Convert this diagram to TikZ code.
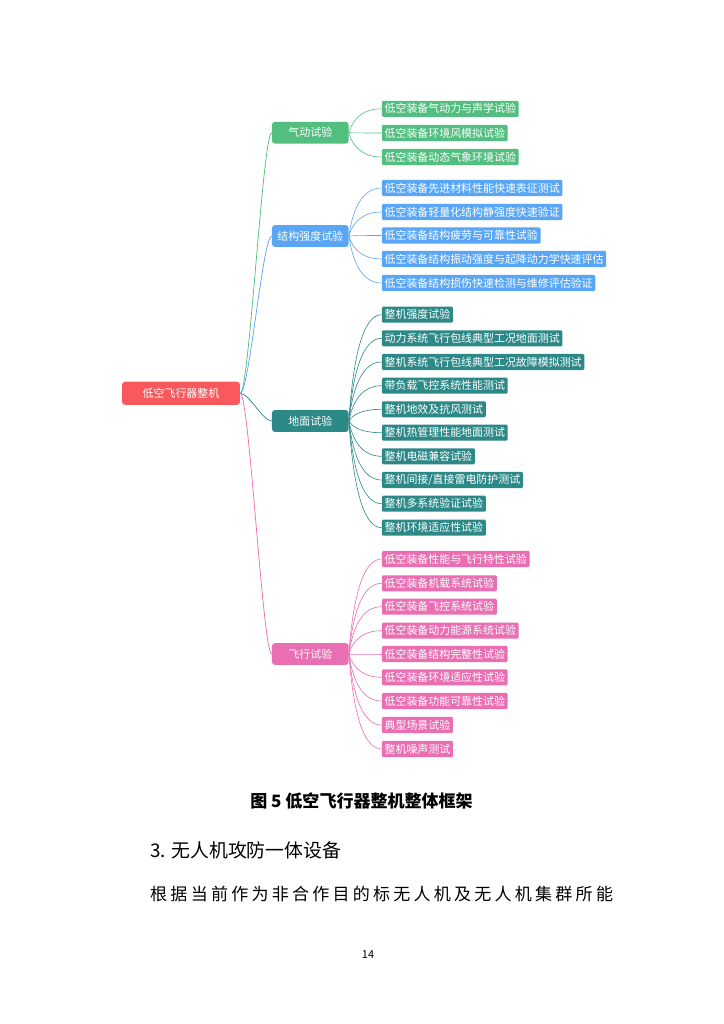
\documentclass[tikz,border=0pt]{standalone}
\usepackage{fontspec}
\usepackage{xcolor}
\usepackage{tikz}
\usetikzlibrary{
  calc
}
\newfontfamily\cjkfont{Noto Sans CJK SC}
\newfontfamily\cjkbody[LetterSpace=19]{Noto Sans CJK SC}

\definecolor{rootred}{RGB}{249,88,93}
\definecolor{aerogreen}{RGB}{82,190,128}
\definecolor{strublue}{RGB}{88,166,245}
\definecolor{gndteal}{RGB}{44,137,135}
\definecolor{flypink}{RGB}{234,110,178}

\begin{document}
\begin{tikzpicture}[x=0.8222pt, y=-0.8222pt,
  box/.style={text=white, font=\cjkfont\fontsize{9}{11}\selectfont, inner sep=0pt},
  rootbox/.style={box, fill=rootred, rounded corners=2.5pt, minimum width=97pt, minimum height=19pt},
  catbox/.style={box, rounded corners=2.5pt, minimum width=63pt, minimum height=18pt},
  leafbox/.style={box, anchor=west, rounded corners=1pt, inner xsep=2.2pt, minimum height=13.2pt},
  trunk/.style={line width=0.6pt},
  twig/.style={line width=0.5pt, to path={let \p1=(\tikztostart), \p2=(\tikztotarget) in
      .. controls ({\x1+3.9pt},{\y1+0.667*(\y2-\y1)}) and ({\x2+0.667*(\x1+5.8pt-\x2)},\y2) .. (\tikztotarget)}}
]

\useasboundingbox (0,0) rectangle (724,1024);

% Root node
\node[rootbox] (whole) at (181,393.3) {低空飞行器整机};

% Categories
\node[catbox, fill=aerogreen] (aero) at (310.3,132.7) {气动试验};
\node[catbox, fill=strublue] (stru) at (310.3,236) {结构强度试验};
\node[catbox, fill=gndteal] (gnd) at (310.3,421) {地面试验};
\node[catbox, fill=flypink] (fly) at (310.3,654) {飞行试验};

% Leaves - aero
\node[leafbox, fill=aerogreen] (aero1) at (381.7,108.8) {低空装备气动力与声学试验};
\node[leafbox, fill=aerogreen] (aero2) at (381.7,133) {低空装备环境风模拟试验};
\node[leafbox, fill=aerogreen] (aero3) at (381.7,157) {低空装备动态气象环境试验};

% Leaves - structure
\node[leafbox, fill=strublue] (stru1) at (381.7,188) {低空装备先进材料性能快速表征测试};
\node[leafbox, fill=strublue] (stru2) at (381.7,212) {低空装备轻量化结构静强度快速验证};
\node[leafbox, fill=strublue] (stru3) at (381.7,235.5) {低空装备结构疲劳与可靠性试验};
\node[leafbox, fill=strublue] (stru4) at (381.7,259) {低空装备结构振动强度与起降动力学快速评估};
\node[leafbox, fill=strublue] (stru5) at (381.7,283) {低空装备结构损伤快速检测与维修评估验证};

% Leaves - ground
\node[leafbox, fill=gndteal] (gnd1) at (381.7,314.7) {整机强度试验};
\node[leafbox, fill=gndteal] (gnd2) at (381.7,338.3) {动力系统飞行包线典型工况地面测试};
\node[leafbox, fill=gndteal] (gnd3) at (381.7,362) {整机系统飞行包线典型工况故障模拟测试};
\node[leafbox, fill=gndteal] (gnd4) at (381.7,385.7) {带负载飞控系统性能测试};
\node[leafbox, fill=gndteal] (gnd5) at (381.7,409.3) {整机地效及抗风测试};
\node[leafbox, fill=gndteal] (gnd6) at (381.7,432.7) {整机热管理性能地面测试};
\node[leafbox, fill=gndteal] (gnd7) at (381.7,456.3) {整机电磁兼容试验};
\node[leafbox, fill=gndteal] (gnd8) at (381.7,480) {整机间接/直接雷电防护测试};
\node[leafbox, fill=gndteal] (gnd9) at (381.7,503.7) {整机多系统验证试验};
\node[leafbox, fill=gndteal] (gnd10) at (381.7,527.7) {整机环境适应性试验};

% Leaves - flight
\node[leafbox, fill=flypink] (fly1) at (381.7,559) {低空装备性能与飞行特性试验};
\node[leafbox, fill=flypink] (fly2) at (381.7,583.3) {低空装备机载系统试验};
\node[leafbox, fill=flypink] (fly3) at (381.7,606.7) {低空装备飞控系统试验};
\node[leafbox, fill=flypink] (fly4) at (381.7,630.7) {低空装备动力能源系统试验};
\node[leafbox, fill=flypink] (fly5) at (381.7,654) {低空装备结构完整性试验};
\node[leafbox, fill=flypink] (fly6) at (381.7,677.3) {低空装备环境适应性试验};
\node[leafbox, fill=flypink] (fly7) at (381.7,701) {低空装备功能可靠性试验};
\node[leafbox, fill=flypink] (fly8) at (381.7,725) {典型场景试验};
\node[leafbox, fill=flypink] (fly9) at (381.7,749) {整机噪声测试};

% Root to categories
\draw[trunk, aerogreen] (whole.east) .. controls +(9,0) and +(-9,0) .. (aero.west);
\draw[trunk, strublue] (whole.east) .. controls +(9,0) and +(-9,0) .. (stru.west);
\draw[trunk, gndteal] (whole.east) .. controls +(9,0) and +(-9,0) .. (gnd.west);
\draw[trunk, flypink] (whole.east) .. controls +(9,0) and +(-9,0) .. (fly.west);

% Categories to leaves
\draw[twig, aerogreen] (aero.east) to (aero1.west);
\draw[twig, aerogreen] (aero.east) to (aero2.west);
\draw[twig, aerogreen] (aero.east) to (aero3.west);

\draw[twig, strublue] (stru.east) to (stru1.west);
\draw[twig, strublue] (stru.east) to (stru2.west);
\draw[twig, strublue] (stru.east) to (stru3.west);
\draw[twig, strublue] (stru.east) to (stru4.west);
\draw[twig, strublue] (stru.east) to (stru5.west);

\draw[twig, gndteal] (gnd.east) to (gnd1.west);
\draw[twig, gndteal] (gnd.east) to (gnd2.west);
\draw[twig, gndteal] (gnd.east) to (gnd3.west);
\draw[twig, gndteal] (gnd.east) to (gnd4.west);
\draw[twig, gndteal] (gnd.east) to (gnd5.west);
\draw[twig, gndteal] (gnd.east) to (gnd6.west);
\draw[twig, gndteal] (gnd.east) to (gnd7.west);
\draw[twig, gndteal] (gnd.east) to (gnd8.west);
\draw[twig, gndteal] (gnd.east) to (gnd9.west);
\draw[twig, gndteal] (gnd.east) to (gnd10.west);

\draw[twig, flypink] (fly.east) to (fly1.west);
\draw[twig, flypink] (fly.east) to (fly2.west);
\draw[twig, flypink] (fly.east) to (fly3.west);
\draw[twig, flypink] (fly.east) to (fly4.west);
\draw[twig, flypink] (fly.east) to (fly5.west);
\draw[twig, flypink] (fly.east) to (fly6.west);
\draw[twig, flypink] (fly.east) to (fly7.west);
\draw[twig, flypink] (fly.east) to (fly8.west);
\draw[twig, flypink] (fly.east) to (fly9.west);

% Caption and text
\node[font=\cjkfont\bfseries\fontsize{14}{16}\selectfont] (caption) at (361.5,800.7) {图 5 低空飞行器整机整体框架};
\node[anchor=west, inner sep=0pt, font=\cjkfont\fontsize{15.5}{18}\selectfont] (heading) at (150,850) {3. 无人机攻防一体设备};
\node[anchor=west, inner sep=0pt, font=\cjkbody\fontsize{14}{16}\selectfont] (bodyline) at (150,894) {根据当前作为非合作目的标无人机及无人机集群所能};
\node[font=\cjkfont\fontsize{9}{11}\selectfont] (pagenum) at (368,955) {14};

\end{tikzpicture}
\end{document}
